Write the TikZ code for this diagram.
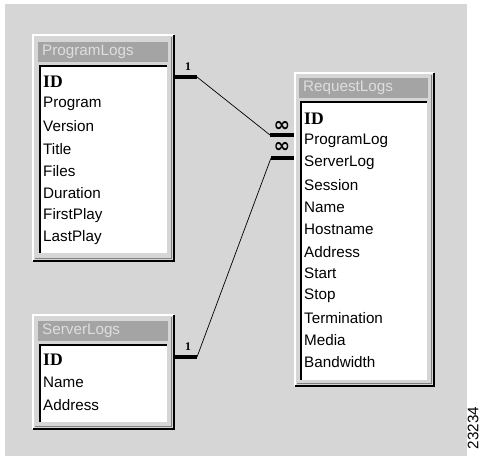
\documentclass[tikz,border=0pt]{standalone}
\usepackage{fontspec}
\setmainfont{Liberation Sans}
\newfontfamily\keyfont{Liberation Serif}
\newfontfamily\symfont{DejaVu Sans}

\definecolor{panelgrey}{RGB}{214, 214, 214}
\definecolor{titlegrey}{RGB}{164, 164, 164}
\definecolor{titletext}{RGB}{222, 222, 222}
\definecolor{edgegrey}{RGB}{128, 128, 128}

\begin{document}
\begin{tikzpicture}[x=0.03cm, y=-0.03cm,
    field/.style={anchor=west, inner sep=0pt, font=\fontsize{13}{14}\selectfont},
    keyfield/.style={field, font=\fontsize{15}{15}\selectfont\keyfont\bfseries},
    title/.style={field, text=titletext},
    card/.style={inner sep=0pt, font=\fontsize{10}{10}\selectfont\keyfont\bfseries},
    many/.style={inner sep=0pt, font=\fontsize{17}{17}\selectfont\symfont\bfseries},
    bar/.style={line width=3.2pt},
    link/.style={line width=0.6pt}]
        \useasboundingbox (0,0) rectangle (483,456);
        \fill[panelgrey] (5,4) rectangle (467,456);

        % ProgramLogs
        \draw[white, line width=1.5pt] (33,261) -- (33,35) -- (174,35);
        \draw[line width=1.7pt] (174,35) -- (174,261) -- (33,261);
        \draw[edgegrey, line width=0.8pt] (171,37) -- (171,258) -- (35,258);
        \fill[titlegrey] (38,42) rectangle (168,62);
        \node[title] (pl-title) at (42,52) {ProgramLogs};
        \fill[white] (40,66) rectangle (167,253);
        \draw[line width=1.5pt] (40,253) -- (40,66) -- (167,66);
        \node[keyfield] (pl-id) at (43,82) {ID};
        \foreach \f [count=\i] in {Program,Version,Title,Files,Duration,FirstPlay,LastPlay}
            \node[field] (pl-\i) at (43,{82+22.2*\i}) {\f};

        % RequestLogs
        \draw[white, line width=1.5pt] (295,386) -- (295,73) -- (434,73);
        \draw[line width=1.7pt] (434,73) -- (434,386) -- (295,386);
        \draw[edgegrey, line width=0.8pt] (431,75) -- (431,383) -- (297,383);
        \fill[titlegrey] (299,78) rectangle (428,98);
        \node[title] (rq-title) at (303,88) {RequestLogs};
        \fill[white] (301,102) rectangle (427,380);
        \draw[line width=1.5pt] (301,380) -- (301,102) -- (427,102);
        \node[keyfield] (rq-id) at (304,119) {ID};
        \foreach \f [count=\i] in {ProgramLog,ServerLog,Session,Name,Hostname,Address,Start,Stop,Termination,Media,Bandwidth}
            \node[field] (rq-\i) at (304,{119+22.1*\i}) {\f};

        % ServerLogs
        \draw[white, line width=1.5pt] (33,429) -- (33,315) -- (174,315);
        \draw[line width=1.7pt] (174,315) -- (174,429) -- (33,429);
        \draw[edgegrey, line width=0.8pt] (171,317) -- (171,426) -- (35,426);
        \fill[titlegrey] (38,321) rectangle (168,341);
        \node[title] (sl-title) at (42,331) {ServerLogs};
        \fill[white] (40,345) rectangle (167,422);
        \draw[line width=1.5pt] (40,422) -- (40,345) -- (167,345);
        \node[keyfield] (sl-id) at (43,360) {ID};
        \foreach \f [count=\i] in {Name,Address}
            \node[field] (sl-\i) at (43,{360+22.5*\i}) {\f};

        % relationships
        \coordinate (pl-key) at (174,77);
        \coordinate (pl-end) at (197,77);
        \coordinate (sl-key) at (174,357);
        \coordinate (sl-end) at (197,357);
        \coordinate (rq-prog) at (294,135);
        \coordinate (rq-progend) at (270,135);
        \coordinate (rq-serv) at (294,158);
        \coordinate (rq-servend) at (271,158);
        \draw[bar] (pl-key) -- (pl-end);
        \draw[link] (pl-end) -- (rq-progend);
        \draw[bar] (rq-progend) -- (rq-prog);
        \draw[bar] (sl-key) -- (sl-end);
        \draw[link] (sl-end) -- (rq-servend);
        \draw[bar] (rq-servend) -- (rq-serv);
        \node[card] (pl-one) at (188,67) {1};
        \node[card] (sl-one) at (188,347) {1};
        \node[many] (rq-manyprog) at (282,126) {∞};
        \node[many] (rq-manyserv) at (282,147) {∞};

        \node[rotate=90, inner sep=0pt, font=\fontsize{13}{13}\selectfont] (figno) at (473,428) {23234};
      \end{tikzpicture}
\end{document}
